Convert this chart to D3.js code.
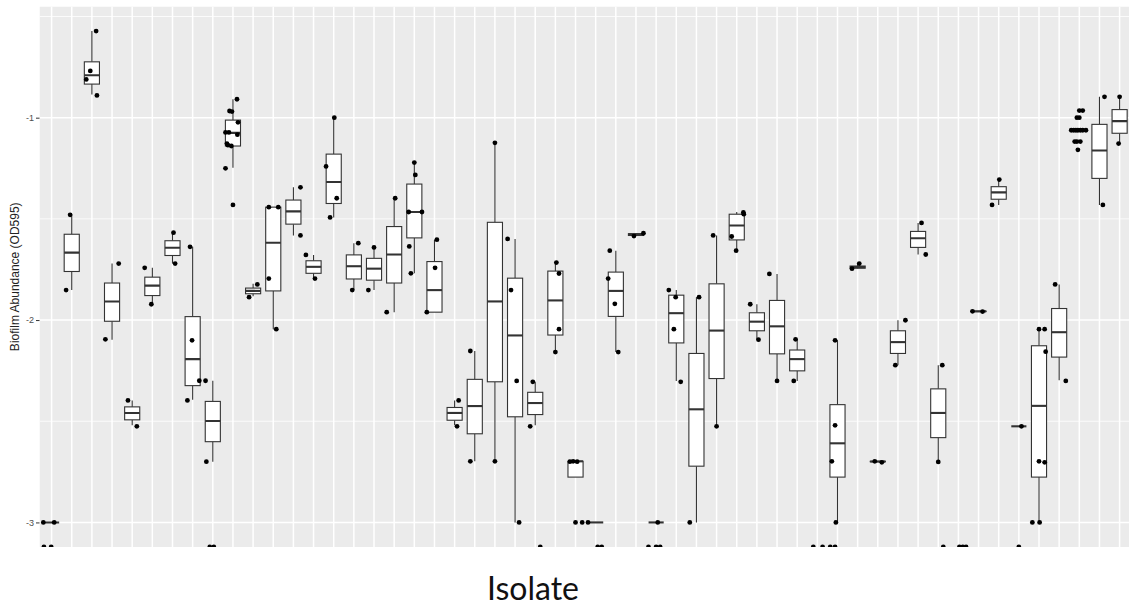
<!DOCTYPE html>
<html>
<head>
<meta charset="utf-8">
<script src="https://cdn.jsdelivr.net/npm/d3@7"></script>
<style>
  body { margin: 0; background: #fff; }
  svg { display: block; }
</style>
</head>
<body>
<svg id="chart" width="1129" height="614"></svg>
<script>
// isolates (x labels are not shown in the figure)
const isolates = ["1","2","3","4","5","6","7","8","9","10","11","12","13","14","15","16","17","18",
  "19","20","21","22","23","24","25","26","27","28","29","30","31","32","33","34","35","36",
  "37","38","39","40","41","42","43","44","45","46","47","48","49","50","51","52","53","54"];

// box summaries, log10 OD595 (null = no box drawn)
const whiskerLow = [-3, -1.852, -0.886, -2.097, -2.520, -1.922, -1.721, -2.394, -2.700, -1.248,
  -1.882, -2.045, -1.582, -1.795, -1.493, -1.852, -1.852, -1.961, -1.769, -1.961,
  -2.520, -2.698, -2.698, -3.000, -2.520, -2.158, -2.776, -3, -2.158, -1.585,
  -3, -2.301, -3.000, -2.525, -1.657, -2.097, -2.301, -2.301, null, -3.000,
  -1.746, -2.700, -2.223, -1.676, -2.701, null, -1.958, -1.431, -2.525, -3.000,
  -2.298, null, -1.431, -1.128];
const q1 = [-3, -1.760, -0.834, -2.006, -2.493, -1.879, -1.681, -2.324, -2.601, -1.140,
  -1.870, -1.856, -1.526, -1.769, -1.424, -1.797, -1.803, -1.817, -1.594, -1.961,
  -2.495, -2.562, -2.305, -2.478, -2.467, -2.074, -2.776, -3, -1.982, -1.582,
  -3, -2.113, -2.722, -2.289, -1.604, -2.053, -2.167, -2.251, null, -2.776,
  -1.744, -2.700, -2.165, -1.641, -2.581, null, -1.958, -1.403, -2.525, -2.776,
  -2.183, null, -1.300, -1.077];
const median = [-3, -1.667, -0.790, -1.908, -2.459, -1.830, -1.643, -2.193, -2.499, -1.075,
  -1.856, -1.618, -1.463, -1.737, -1.318, -1.734, -1.746, -1.676, -1.466, -1.852,
  -2.459, -2.425, -1.908, -2.076, -2.410, -1.903, -2.698, -3, -1.856, -1.576,
  -3, -1.966, -2.441, -2.052, -1.533, -2.008, -2.031, -2.193, null, -2.609,
  -1.738, -2.699, -2.109, -1.596, -2.459, null, -1.957, -1.369, -2.525, -2.424,
  -2.060, null, -1.162, -1.017];
const q3 = [-3, -1.576, -0.724, -1.817, -2.429, -1.788, -1.608, -1.983, -2.402, -1.012,
  -1.842, -1.442, -1.407, -1.707, -1.180, -1.678, -1.695, -1.538, -1.328, -1.711,
  -2.432, -2.293, -1.517, -1.793, -2.357, -1.758, -2.698, -3, -1.763, -1.573,
  -3, -1.877, -2.165, -1.821, -1.477, -1.964, -1.903, -2.148, null, -2.418,
  -1.733, -2.698, -2.053, -1.562, -2.340, null, -1.956, -1.341, -2.525, -2.127,
  -1.943, null, -1.033, -0.960];
const whiskerHigh = [-3, -1.480, -0.572, -1.721, -2.397, -1.742, -1.568, -1.638, -2.300, -0.909,
  -1.821, -1.442, -1.344, -1.678, -1.000, -1.620, -1.641, -1.398, -1.222, -1.603,
  -2.397, -2.153, -1.124, -1.599, -2.305, -1.716, -2.698, -3, -1.657, -1.571,
  -3, -1.852, -1.887, -1.582, -1.466, -1.922, -1.772, -2.095, null, -2.100,
  -1.721, -2.698, -2.001, -1.520, -2.223, null, -1.956, -1.306, -2.525, -2.045,
  -1.824, null, -0.897, -0.897];

// jittered replicate points per isolate; -Infinity = zero reading (drawn on the panel edge)
const pointValues = [
  [-3, -3, -Infinity, -Infinity],
  [-1.480, -1.852],
  [-0.572, -0.769, -0.811, -0.890],
  [-1.721, -2.095],
  [-2.397, -2.525],
  [-1.742, -1.922],
  [-1.568, -1.721],
  [-1.638, -2.100, -2.300, -2.397],
  [-2.300, -2.700, -Infinity, -Infinity],
  [-0.909, -0.967, -0.970, -1.023, -1.073, -1.073, -1.084, -1.128, -1.136, -1.140, -1.250, -1.431],
  [-1.824, -1.887],
  [-1.442, -1.442, -1.795, -2.045],
  [-1.344, -1.582],
  [-1.678, -1.795],
  [-1.000, -1.241, -1.398, -1.493],
  [-1.620, -1.852],
  [-1.641, -1.852],
  [-1.398, -1.961],
  [-1.222, -1.283, -1.466, -1.466, -1.636, -1.769],
  [-1.603, -1.742, -1.961],
  [-2.397, -2.525],
  [-2.153, -2.698],
  [-1.124, -2.698],
  [-1.599, -1.852, -2.301, -3.000],
  [-2.305, -2.525, -Infinity],
  [-1.716, -1.770, -2.045, -2.158],
  [-2.700, -2.698, -2.700, -3.000, -3.000],
  [-3.000, -Infinity, -Infinity],
  [-1.657, -1.795, -1.920, -2.158],
  [-1.585, -1.571],
  [-3.000, -Infinity, -Infinity, -Infinity],
  [-1.852, -1.887, -2.045, -2.305],
  [-1.887, -3.000],
  [-1.582, -2.525],
  [-1.468, -1.477, -1.587, -1.657],
  [-1.922, -2.097],
  [-1.772, -2.301],
  [-2.095, -2.301],
  [-Infinity, -Infinity],
  [-2.100, -2.520, -2.698, -3.000, -Infinity, -Infinity],
  [-1.746, -1.721],
  [-2.698, -2.703],
  [-2.001, -2.223],
  [-1.520, -1.676],
  [-2.223, -2.701, -Infinity],
  [-Infinity, -Infinity, -Infinity],
  [-1.957, -1.958],
  [-1.306, -1.431],
  [-2.525, -Infinity],
  [-2.045, -2.045, -2.156, -2.698, -2.703, -3.000, -3.000],
  [-1.824, -2.301],
  [-0.965, -0.965, -1.000, -1.000, -1.062, -1.062, -1.062, -1.062, -1.062, -1.062, -1.062, -1.118, -1.118, -1.118, -1.159],
  [-0.897, -1.431],
  [-0.897, -1.128]
];
// horizontal jitter of each point, in isolate widths
const pointJitter = [
  [-0.41, 0.13, -0.38, -0.02],
  [-0.08, -0.28],
  [0.21, -0.08, -0.28, 0.25],
  [0.33, -0.33],
  [-0.21, 0.23],
  [-0.38, -0.05],
  [0.05, 0.13],
  [-0.13, -0.03, 0.33, -0.26],
  [-0.36, -0.32, -0.15, 0.05],
  [0.2, -0.17, -0.05, 0.25, -0.37, -0.2, 0.22, -0.3, -0.25, -0.08, -0.37, 0],
  [0.21, -0.2],
  [-0.22, 0.25, -0.22, 0.15],
  [0.35, 0.35],
  [-0.38, 0.07],
  [0.03, -0.38, 0.15, -0.18],
  [0.22, -0.08],
  [0, -0.28],
  [0.05, -0.37],
  [0, 0.05, -0.28, 0.38, -0.25, -0.17],
  [0.12, 0.03, -0.38],
  [0.2, 0.12],
  [-0.22, -0.22],
  [0, 0],
  [-0.37, -0.2, 0.08, 0.2],
  [-0.12, -0.25, 0.25],
  [0.05, 0.18, 0.18, 0],
  [-0.28, -0.12, 0.08, 0, 0.33],
  [-0.38, 0.1, 0.3],
  [-0.3, -0.38, -0.05, 0.12],
  [-0.1, 0.37],
  [0.08, -0.38, 0, 0.2],
  [-0.37, -0.03, -0.12, 0.22],
  [0.13, -0.33],
  [-0.17, 0],
  [0.33, 0.35, -0.25, -0.03],
  [-0.33, 0.08],
  [-0.38, 0],
  [-0.08, -0.17],
  [-0.2, 0.26],
  [-0.12, -0.12, -0.28, -0.08, -0.36, -0.12],
  [-0.28, 0.08],
  [-0.15, 0.2],
  [0.37, -0.13],
  [0.17, 0.38],
  [0.2, 0, 0.25],
  [0.05, 0.22, 0.38],
  [-0.3, 0.2],
  [0.03, -0.33],
  [0.13, 0],
  [0, 0.28, 0.33, 0, 0.28, -0.33, 0.03],
  [-0.2, 0.33],
  [0, 0.17, -0.12, 0, -0.4, -0.28, -0.17, -0.07, 0.05, 0.17, 0.33, -0.23, -0.12, 0.05, -0.07],
  [0.25, 0.17],
  [0, -0.05]
];

const yMajor = [-1, -2, -3];
const yMinor = [-0.5, -1.5, -2.5];

const svg = d3.select("#chart");
const panel = { left: 39.5, right: 1131.7, top: 6.5, bottom: 547 };

// y range as ggplot: finite data plus 5% each side
const finite = [].concat(whiskerLow, whiskerHigh, ...pointValues)
  .filter(v => v != null && isFinite(v));
const [lo, hi] = d3.extent(finite);
const pad = (hi - lo) * 0.05;

const y = d3.scaleLinear()
  .domain([lo - pad, hi + pad])
  .range([panel.bottom, panel.top])
  .clamp(true);

const x = d3.scalePoint()
  .domain(isolates)
  .range([panel.left, panel.right])
  .padding(0.6);

const boxW = x.step() * 0.75;

svg.append("defs").append("clipPath").attr("id", "panel-clip")
  .append("rect")
  .attr("x", panel.left).attr("y", panel.top)
  .attr("width", panel.right - panel.left).attr("height", panel.bottom - panel.top);

const g = svg.append("g").attr("clip-path", "url(#panel-clip)");

g.append("rect")
  .attr("x", panel.left).attr("y", panel.top)
  .attr("width", panel.right - panel.left).attr("height", panel.bottom - panel.top)
  .attr("fill", "#EBEBEB");

g.selectAll(".minor")
  .data(yMinor)
  .enter().append("line")
  .attr("x1", panel.left).attr("x2", panel.right)
  .attr("y1", d => y(d)).attr("y2", d => y(d))
  .attr("stroke", "#fff").attr("stroke-width", 0.8);

g.selectAll(".hmajor")
  .data(yMajor)
  .enter().append("line")
  .attr("x1", panel.left).attr("x2", panel.right)
  .attr("y1", d => y(d)).attr("y2", d => y(d))
  .attr("stroke", "#fff").attr("stroke-width", 1.5);

g.selectAll(".vmajor")
  .data(isolates)
  .enter().append("line")
  .attr("x1", d => x(d)).attr("x2", d => x(d))
  .attr("y1", panel.top).attr("y2", panel.bottom)
  .attr("stroke", "#fff").attr("stroke-width", 1.5);

// boxplots
const boxes = isolates.map((d, i) => ({
  key: d, low: whiskerLow[i], q1: q1[i], med: median[i], q3: q3[i], high: whiskerHigh[i]
})).filter(b => b.q1 != null);

const bx = g.selectAll(".box")
  .data(boxes)
  .enter().append("g")
  .attr("class", "box");

bx.append("line")
  .attr("x1", d => x(d.key)).attr("x2", d => x(d.key))
  .attr("y1", d => y(d.q3)).attr("y2", d => y(d.high))
  .attr("stroke", "#333").attr("stroke-width", 1.1);

bx.append("line")
  .attr("x1", d => x(d.key)).attr("x2", d => x(d.key))
  .attr("y1", d => y(d.q1)).attr("y2", d => y(d.low))
  .attr("stroke", "#333").attr("stroke-width", 1.1);

bx.append("rect")
  .attr("x", d => x(d.key) - boxW / 2)
  .attr("y", d => y(d.q3))
  .attr("width", boxW)
  .attr("height", d => y(d.q1) - y(d.q3))
  .attr("fill", "#fff")
  .attr("stroke", "#333").attr("stroke-width", 1.1);

bx.append("line")
  .attr("x1", d => x(d.key) - boxW / 2).attr("x2", d => x(d.key) + boxW / 2)
  .attr("y1", d => y(d.med)).attr("y2", d => y(d.med))
  .attr("stroke", "#333").attr("stroke-width", 2.1);

// jittered points
const pts = [];
isolates.forEach((d, i) => {
  pointValues[i].forEach((v, j) => pts.push({ key: d, value: v, jitter: pointJitter[i][j] }));
});

g.selectAll(".pt")
  .data(pts)
  .enter().append("circle")
  .attr("cx", d => x(d.key) + d.jitter * x.step())
  .attr("cy", d => y(d.value))
  .attr("r", 2.4)
  .attr("fill", "#000");

// y axis
const yAxis = svg.append("g")
  .attr("transform", `translate(${panel.left},0)`)
  .call(d3.axisLeft(y).tickValues(yMajor).tickSize(3.5).tickPadding(2).tickFormat(d => String(d)));
yAxis.select(".domain").remove();
yAxis.selectAll(".tick line").attr("stroke", "#333").attr("stroke-width", 1);
yAxis.selectAll(".tick text")
  .attr("fill", "#4D4D4D")
  .style("font-family", "'Liberation Sans', Arial, sans-serif")
  .style("font-size", "9px");

svg.append("text")
  .attr("transform", `translate(19,${(panel.top + panel.bottom) / 2}) rotate(-90)`)
  .attr("text-anchor", "middle")
  .style("font-family", "'Liberation Sans', Arial, sans-serif")
  .style("font-size", "12px")
  .attr("fill", "#222")
  .text("Biofilm Abundance (OD595)");

svg.append("text")
  .attr("x", 533)
  .attr("y", 600)
  .attr("text-anchor", "middle")
  .style("font-family", "Lato, 'Open Sans', sans-serif")
  .style("font-size", "32px")
  .attr("fill", "#111")
  .text("Isolate");
</script>
</body>
</html>
